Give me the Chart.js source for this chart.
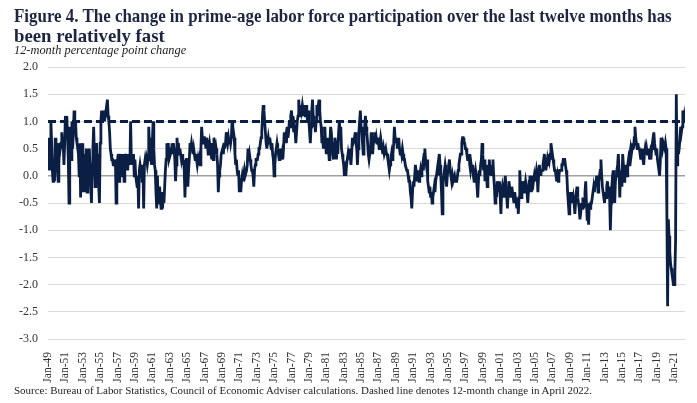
<!DOCTYPE html>
<html><head><meta charset="utf-8">
<script src="https://cdn.jsdelivr.net/npm/chart.js@4.4.0/dist/chart.umd.min.js"></script>
<style>
html,body{margin:0;padding:0;background:#fff;}
#wrap{position:relative;width:697px;height:403px;overflow:hidden;background:#fff;}
.t{position:absolute;white-space:nowrap;transform-origin:0 0;font-family:"Liberation Serif","Times New Roman",serif;}
#t1,#t2{font-weight:bold;font-size:19px;color:#1c2541;line-height:19px;}
#t1{left:14px;top:6px}
#t2{left:14px;top:26px}
#sub{font-style:italic;font-size:12.5px;left:14px;top:44px;color:#222;line-height:13px}
#src{font-size:11px;left:14px;top:384px;color:#222;line-height:12px}
canvas{position:absolute;left:0;top:0}
</style></head>
<body>
<div id="wrap">
<canvas id="c" width="697" height="403"></canvas>
<div class="t" id="t1">Figure 4. The change in prime-age labor force participation over the last twelve months has</div>
<div class="t" id="t2">been relatively fast</div>
<div class="t" id="sub">12-month percentage point change</div>
<div class="t" id="src">Source: Bureau of Labor Statistics, Council of Economic Adviser calculations. Dashed line denotes 12-month change in April 2022.</div>
</div>
<script>
// Monthly series, Jan 1949 - Apr 2022 (12-month percentage point change)
const startYear = 1949;
const v1949_1959 = [
 0.7,0.4,0.1,0.5,1.0,0.6,0.1,-0.1,0.2,-0.1,0.7,0.3,
 0.6,0.1,-0.1,0.2,0.6,0.5,0.6,0.8,0.5,0.6,0.2,0.6,
 1.1,1.0,1.1,0.7,0.3,-0.5,0.9,0.6,0.3,1.0,0.5,0.8,
 1.2,0.9,1.0,0.7,0.6,0.5,0.4,0.0,0.6,-0.4,0.6,0.2,
 0.6,-0.3,0.4,-0.3,0.2,0.5,-0.3,0.4,-0.1,0.5,0.2,-0.2,
 -0.5,0.2,0.5,0.9,0.4,-0.2,0.3,0.6,0.1,0.4,-0.2,-0.5,
 0.6,1.0,1.2,1.0,1.1,1.2,1.0,1.1,1.2,1.3,1.4,1.1,
 1.0,0.8,0.5,0.4,0.3,0.3,0.2,0.2,0.2,0.3,-0.5,0.2,
 0.3,0.4,-0.1,0.3,0.4,0.0,0.4,0.2,0.4,-0.1,0.4,0.3,
 0.4,0.2,0.1,0.4,0.3,0.2,1.0,0.3,0.4,0.2,0.4,0.0,
 0.3,0.0,-0.1,-0.2,0.0,-0.6,0.1,0.2,0.1,0.2,-0.1,0.2
];
const v1960_1969 = [
 -0.6,0.2,0.3,0.2,0.3,0.2,0.3,0.9,0.6,0.7,0.3,0.2,
 0.6,1.0,0.5,0.2,0.1,-0.3,-0.6,0.0,-0.5,-0.3,-0.2,-0.4,
 -0.6,-0.3,-0.6,-0.4,-0.5,-0.2,0.1,0.3,0.6,0.5,0.6,0.3,
 0.3,0.4,0.5,0.6,0.4,0.6,0.5,0.3,-0.1,0.2,0.7,0.5,
 0.6,0.4,0.5,0.4,0.3,0.4,0.2,0.3,0.1,-0.4,0.1,0.3,
 0.3,-0.2,0.1,0.3,0.6,0.5,0.6,0.5,0.4,0.5,0.4,0.3,
 0.4,0.3,0.2,0.3,0.2,0.3,0.2,0.5,0.9,0.7,0.6,0.7,
 0.7,0.6,0.5,0.7,0.6,0.4,0.5,0.6,0.5,0.6,0.3,0.4,
 0.3,0.7,0.6,0.4,0.5,0.4,0.2,-0.3,0.0,0.1,0.2,0.4,
 0.4,0.5,0.4,0.6,0.5,0.6,0.8,0.7,0.6,0.7,0.6,0.7
];
const v1970_1979 = [
 0.6,0.7,1.0,0.7,0.8,0.7,0.4,0.2,0.3,0.1,0.0,0.1,
 -0.3,-0.2,-0.3,-0.1,0.0,-0.1,0.0,0.1,0.0,0.0,0.1,0.2,
 0.5,0.3,0.4,0.3,0.2,0.1,0.1,0.0,-0.2,0.1,0.2,0.3,
 0.3,0.3,0.4,0.5,0.5,0.6,0.7,0.8,1.1,1.3,1.2,1.0,
 0.8,0.6,0.5,0.6,0.7,0.6,0.7,0.6,0.5,0.6,0.4,0.3,
 0.0,0.2,0.4,0.5,0.6,0.5,0.4,0.3,0.4,0.5,0.3,0.4,
 0.3,0.5,0.8,0.6,0.7,0.6,0.9,0.7,0.8,1.0,0.9,1.1,
 1.2,1.0,1.1,0.8,0.9,0.8,0.6,0.8,1.0,1.1,1.4,1.1,
 1.1,1.3,1.2,1.3,1.2,1.1,1.3,1.1,1.2,1.3,1.0,1.2,
 1.0,0.8,0.6,0.9,1.2,1.4,1.1,0.9,1.0,0.8,1.0,1.3
];
const v1980_1989 = [
 1.1,1.3,1.4,1.2,1.0,0.9,0.6,0.7,0.5,0.7,0.9,0.6,
 0.4,0.5,0.7,0.5,0.3,0.6,0.9,0.8,0.6,0.4,0.3,0.5,
 0.7,0.6,0.3,0.5,0.4,0.8,1.0,0.8,0.9,0.5,0.4,0.3,
 0.2,0.0,0.1,0.0,0.2,0.3,0.4,0.3,0.5,0.4,0.2,0.4,
 0.7,0.6,0.6,0.7,0.8,0.6,0.5,0.2,0.5,0.8,1.0,1.2,
 0.9,0.8,0.6,0.4,0.7,0.9,1.1,0.9,0.8,0.6,0.4,0.3,
 0.3,0.5,0.8,0.6,0.4,0.6,0.7,0.8,0.6,0.7,0.6,0.7,
 0.6,0.5,0.6,0.7,0.6,0.5,0.4,0.5,0.4,0.4,0.5,0.4,
 0.4,0.3,0.2,0.1,0.2,0.3,0.4,0.3,0.4,0.6,0.9,0.7,
 0.6,0.7,0.5,0.6,0.7,0.5,0.4,0.5,0.4,0.5,0.4,0.3
];
const v1990_1999 = [
 0.3,0.2,0.2,0.1,0.1,0.0,-0.1,-0.1,-0.3,-0.4,-0.6,-0.3,
 -0.1,-0.2,0.0,0.2,0.1,-0.1,0.0,0.1,-0.1,0.0,0.1,0.0,
 0.1,0.2,0.1,0.4,0.5,0.3,0.2,0.3,-0.1,-0.2,-0.3,-0.2,
 -0.4,-0.3,-0.5,-0.4,-0.3,-0.2,-0.3,-0.1,0.0,0.1,0.0,0.3,
 0.4,0.2,0.0,-0.3,-0.7,-0.2,0.0,0.1,0.2,0.1,-0.2,0.0,
 0.1,0.2,0.3,0.1,0.0,-0.1,0.0,-0.1,-0.1,0.0,-0.1,-0.1,
 -0.1,0.0,0.1,0.2,0.3,0.4,0.4,0.6,0.7,0.7,0.6,0.6,
 0.5,0.5,0.4,0.3,0.3,0.4,0.2,0.1,0.2,0.1,0.2,0.0,
 -0.1,0.0,0.1,0.0,-0.2,-0.4,-0.1,0.1,0.0,0.2,0.3,0.6,
 0.4,0.1,0.3,-0.1,0.2,0.1,-0.2,0.2,0.0,0.3,0.1,0.2
];
const v2000_2009 = [
 0.0,0.1,0.3,0.0,-0.2,-0.5,-0.3,-0.4,-0.1,-0.2,-0.3,-0.1,
 -0.4,-0.7,-0.3,-0.2,-0.3,-0.4,-0.2,0.0,-0.2,-0.4,-0.6,-0.3,
 -0.1,-0.2,-0.4,-0.3,-0.2,-0.3,-0.4,-0.5,-0.3,-0.4,-0.5,-0.6,
 -0.4,-0.7,-0.4,0.1,-0.2,-0.4,-0.3,-0.1,-0.2,-0.3,-0.2,-0.1,
 -0.2,-0.3,-0.5,-0.3,-0.1,0.0,-0.1,-0.3,-0.2,0.0,-0.1,0.0,
 -0.1,0.0,0.1,0.0,-0.3,0.0,0.2,0.1,0.0,0.1,0.1,0.2,
 0.3,0.4,0.2,0.1,0.2,0.3,0.2,0.4,0.3,0.4,0.6,0.3,
 0.4,0.3,0.2,0.1,0.1,0.0,-0.1,0.0,-0.1,0.0,0.1,0.1,
 0.1,0.2,0.2,0.3,0.3,0.3,0.2,0.1,0.0,-0.3,-0.5,-0.7,
 -0.6,-0.3,-0.4,-0.3,-0.5,-0.4,-0.5,-0.7,-0.5,-0.3,-0.2,-0.4
];
const v2010_2022 = [
 -0.5,-0.6,-0.8,-0.7,-0.5,-0.6,-0.4,-0.6,-0.5,-0.3,-0.1,-0.5,
 -0.8,-0.7,-0.9,-0.5,-0.6,-0.5,-0.5,-0.4,-0.4,-0.2,-0.3,-0.1,
 -0.2,0.0,-0.1,-0.3,-0.1,0.0,0.1,0.3,0.0,-0.2,-0.3,-0.4,
 -0.5,-0.3,-0.4,-0.2,-0.1,-0.3,-0.2,-0.4,-1.0,-0.5,-0.2,0.0,
 0.1,-0.2,-0.5,-0.1,0.0,0.1,0.2,0.4,0.1,-0.4,0.0,-0.1,
 -0.2,0.4,0.2,-0.1,0.0,0.2,0.1,0.0,0.2,0.3,0.2,0.4,
 0.5,0.4,0.5,0.6,0.5,0.7,0.9,0.7,0.6,0.5,0.6,0.5,
 0.5,0.4,0.3,0.4,0.5,0.3,0.2,0.4,0.5,0.4,0.5,0.4,
 0.4,0.5,0.3,0.4,0.3,0.5,0.6,0.5,0.8,0.6,0.5,0.4,
 0.5,0.3,0.2,0.1,0.0,0.3,0.7,0.6,0.5,0.6,0.6,0.5,
 0.6,0.5,-0.7,-2.4,-0.8,-1.1,-1.4,-1.6,-1.7,-1.8,-1.9,-2.0,
 -2.0,-1.8,-1.2,1.5,0.2,0.6,0.4,0.5,0.5,0.9,0.8,0.9,
 1.2,1.0,1.1,1.0
];
const april2022Change = 1.0;
const xTickLabels = ['Jan-49','Jan-51','Jan-53','Jan-55','Jan-57','Jan-59','Jan-61','Jan-63','Jan-65','Jan-67','Jan-69','Jan-71','Jan-73','Jan-75','Jan-77','Jan-79','Jan-81','Jan-83','Jan-85','Jan-87','Jan-89','Jan-91','Jan-93','Jan-95','Jan-97','Jan-99','Jan-01','Jan-03','Jan-05','Jan-07','Jan-09','Jan-11','Jan-13','Jan-15','Jan-17','Jan-19','Jan-21'];
const yTickValues = [2.0,1.5,1.0,0.5,0.0,-0.5,-1.0,-1.5,-2.0,-2.5,-3.0];

// fit text widths
function fit(id, w){const e=document.getElementById(id);const k=w/e.offsetWidth;e.style.transform='scaleX('+k+')';return k;}
fit('t1',658);
fit('t2',151);
fit('sub',172);
fit('src',578);

const values = [].concat(v1949_1959,v1960_1969,v1970_1979,v1980_1989,v1990_1999,v2000_2009,v2010_2022);
const points = values.map((v,i)=>({x:i,y:v}));
const lastIdx = values.length-1;
const tickPos = xTickLabels.map(l=>{const yy=parseInt(l.slice(4),10);const full=yy>=49?1900+yy:2000+yy;return (full-startYear)*12;});
const navy = '#0b1f45';

new Chart(document.getElementById('c'),{
  type:'line',
  data:{datasets:[
    {data:points,borderColor:navy,borderWidth:2.8,pointRadius:0,tension:0,fill:false,order:1},
    {data:[{x:0,y:april2022Change},{x:lastIdx,y:april2022Change}],borderColor:navy,borderWidth:3,borderDash:[8,4],pointRadius:0,fill:false,order:2}
  ]},
  options:{
    responsive:false,animation:false,devicePixelRatio:1,
    layout:{padding:{left:0,right:12,top:67,bottom:0}},
    plugins:{legend:{display:false},tooltip:{enabled:false},title:{display:false}},
    scales:{
      x:{type:'linear',min:0,max:lastIdx,
        grid:{display:false},border:{display:false},
        afterBuildTicks:s=>{s.ticks=tickPos.map(v=>({value:v}));},
        afterFit:s=>{s.height=64;},
        ticks:{autoSkip:false,maxRotation:90,minRotation:90,padding:5,color:'#333',
          font:{family:'Liberation Serif',size:11.5},
          callback:(v,i)=>xTickLabels[i]}
      },
      y:{min:-3,max:2,
        afterBuildTicks:s=>{s.ticks=yTickValues.map(v=>({value:v}));},
        afterFit:s=>{s.width=48;},
        border:{display:false},
        grid:{drawTicks:false,color:c=>c.tick&&c.tick.value===0?'#a0a0a0':'#d9d9d9',lineWidth:c=>c.tick&&c.tick.value===0?1.5:1},
        ticks:{padding:10,color:'#333',font:{family:'Liberation Serif',size:12},callback:v=>Number(v).toFixed(1)}
      }
    }
  }
});
</script>
</body></html>
